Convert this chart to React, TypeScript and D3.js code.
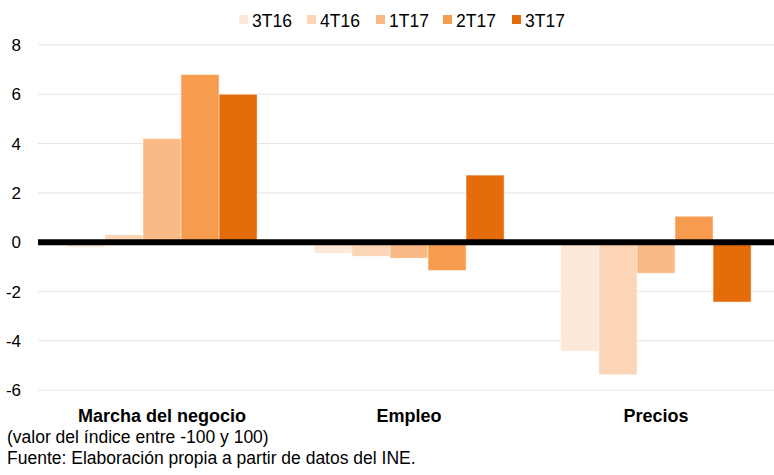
import * as d3 from 'd3';
import { useEffect, useRef } from 'react';

const categories = ['Marcha del negocio', 'Empleo', 'Precios'];
const seriesNames = ['3T16', '4T16', '1T17', '2T17', '3T17'];
const s3T16 = [-0.2, -0.45, -4.42];
const s4T16 = [0.3, -0.57, -5.38];
const s1T17 = [4.2, -0.65, -1.26];
const s2T17 = [6.8, -1.15, 1.05];
const s3T17 = [6.0, 2.72, -2.43];
const yTicks = [-6, -4, -2, 0, 2, 4, 6, 8];
const colors = ['#FDE9D9', '#FBD5B5', '#FAB985', '#F79B4E', '#E46C0A'];
const notes = ['(valor del índice entre -100 y 100)', 'Fuente: Elaboración propia a partir de datos del INE.'];

const W = 774;
const H = 475;
const FONT = 'Liberation Sans, Arial, Helvetica, sans-serif';

const Chart = () => {
  const svgRef = useRef<SVGSVGElement | null>(null);

  useEffect(() => {
    if (!svgRef.current) return;
    document.body.style.margin = '0';

    const svg = d3.select(svgRef.current);
    svg.selectAll('*').remove();

    const series = [s3T16, s4T16, s1T17, s2T17, s3T17];
    const rows = categories.map((c, i) => ({
      cat: c,
      values: series.map((s, j) => ({ name: seriesNames[j], value: s[i] })),
    }));

    const x0 = d3.scaleBand().domain(categories).range([38.5, 779.5]).paddingInner(0.23).paddingOuter(0.115);
    const x1 = d3.scaleBand().domain(seriesNames).range([0, x0.bandwidth()]);
    const y = d3.scaleLinear().domain([-6, 8]).range([390, 45]);
    const color = d3.scaleOrdinal<string>().domain(seriesNames).range(colors);

    // gridlines
    svg
      .append('g')
      .selectAll('line')
      .data(yTicks.filter((t) => t !== 0))
      .enter()
      .append('line')
      .attr('x1', 38)
      .attr('x2', W)
      .attr('y1', (d) => y(d))
      .attr('y2', (d) => y(d))
      .attr('stroke', '#E6E6E6')
      .attr('stroke-width', 1);

    // y labels
    svg
      .append('g')
      .selectAll('text')
      .data(yTicks)
      .enter()
      .append('text')
      .attr('x', 21)
      .attr('y', (d) => y(d))
      .attr('dy', '0.36em')
      .attr('text-anchor', 'end')
      .attr('font-family', FONT)
      .attr('font-size', '17px')
      .attr('fill', '#000')
      .text((d) => d);

    // bars
    const groups = svg
      .append('g')
      .selectAll('g')
      .data(rows)
      .enter()
      .append('g')
      .attr('transform', (d) => `translate(${x0(d.cat)},0)`);

    groups
      .selectAll('rect')
      .data((d) => d.values)
      .enter()
      .append('rect')
      .attr('x', (d) => x1(d.name) as number)
      .attr('y', (d) => y(Math.max(0, d.value)))
      .attr('width', x1.bandwidth())
      .attr('height', (d) => Math.abs(y(d.value) - y(0)))
      .attr('fill', (d) => color(d.name))
      .attr('stroke', '#ffffff')
      .attr('stroke-opacity', 0.45)
      .attr('stroke-width', 1);

    // zero line
    svg
      .append('line')
      .attr('x1', 38)
      .attr('x2', W)
      .attr('y1', y(0))
      .attr('y2', y(0))
      .attr('stroke', '#000')
      .attr('stroke-width', 6);

    // category labels
    svg
      .append('g')
      .selectAll('text')
      .data(categories)
      .enter()
      .append('text')
      .attr('x', (d) => (x0(d) as number) + x0.bandwidth() / 2)
      .attr('y', 422)
      .attr('text-anchor', 'middle')
      .attr('font-family', FONT)
      .attr('font-size', '18px')
      .attr('font-weight', 'bold')
      .text((d) => d);

    // legend
    const legendX = [239, 307, 376, 443, 512];
    const legend = svg
      .append('g')
      .selectAll('g')
      .data(seriesNames)
      .enter()
      .append('g')
      .attr('transform', (d, i) => `translate(${legendX[i]},15)`);
    legend
      .append('rect')
      .attr('width', 9)
      .attr('height', 9)
      .attr('fill', (d) => color(d));
    legend
      .append('text')
      .attr('x', 13)
      .attr('y', 11.7)
      .attr('font-family', FONT)
      .attr('font-size', '17.5px')
      .text((d) => d);

    // notes
    svg
      .append('g')
      .selectAll('text')
      .data(notes)
      .enter()
      .append('text')
      .attr('x', 7)
      .attr('y', (d, i) => 443 + i * 20.5)
      .attr('font-family', FONT)
      .attr('font-size', '17.5px')
      .text((d) => d);
  }, []);

  return <svg ref={svgRef} width={W} height={H} style={{ display: 'block' }}></svg>;
};

export default function App() {
  return <Chart />;
}
